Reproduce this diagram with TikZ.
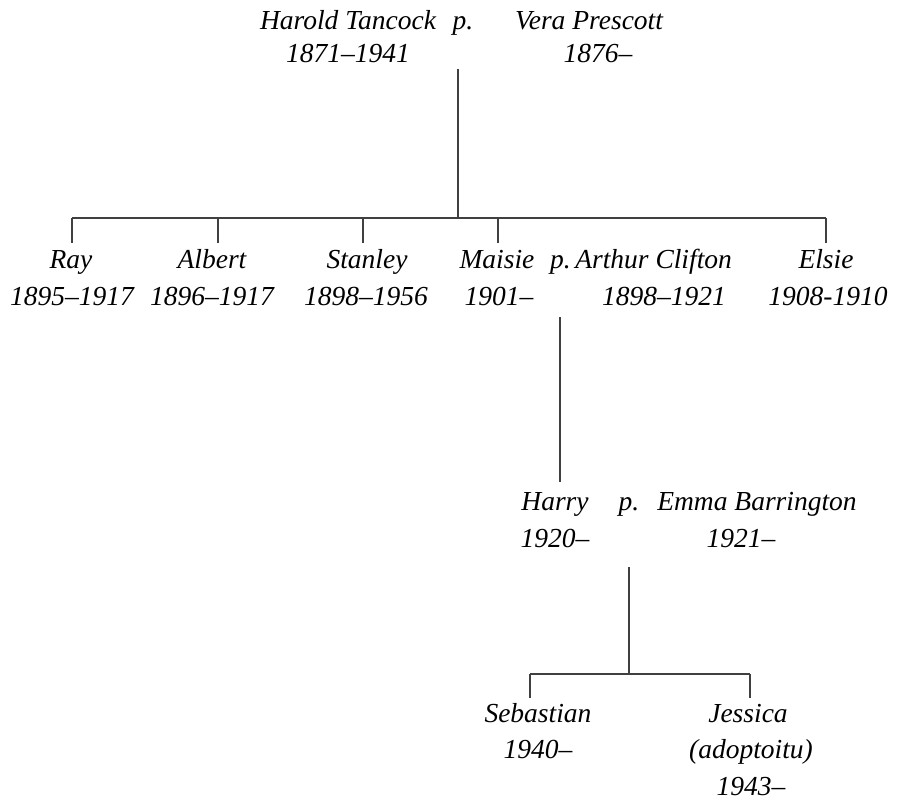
\documentclass[tikz,border=0pt]{standalone}
\usepackage{fontspec}
\setmainfont{Liberation Serif}
\begin{document}
\begin{tikzpicture}[x=1pt,y=-1pt,
  txt/.style={font=\fontsize{27.5}{35}\selectfont\itshape, inner sep=0pt, anchor=base},
  link/.style={draw=black!75, line width=1.1pt}]
\useasboundingbox (0,0) rectangle (904,803);
% generation 1
\node[txt] (harold) at (348,29) {Harold Tancock};
\node[txt] (harold-d) at (348,62) {1871–1941};
\node[txt] (p1) at (463,29) {p.};
\node[txt] (vera) at (589,29) {Vera Prescott};
\node[txt] (vera-d) at (598,62) {1876–};
% generation 2
\node[txt] (ray) at (71,268) {Ray};
\node[txt] (ray-d) at (72,305) {1895–1917};
\node[txt] (albert) at (212,268) {Albert};
\node[txt] (albert-d) at (212,305) {1896–1917};
\node[txt] (stanley) at (367,268) {Stanley};
\node[txt] (stanley-d) at (366,305) {1898–1956};
\node[txt] (maisie) at (497,268) {Maisie};
\node[txt] (maisie-d) at (499,305) {1901–};
\node[txt] (arthur) at (641,268) {p.\,Arthur Clifton};
\node[txt] (arthur-d) at (664,305) {1898–1921};
\node[txt] (elsie) at (826,268) {Elsie};
\node[txt] (elsie-d) at (828,305) {1908-1910};
% generation 3
\node[txt] (harry) at (555,510) {Harry};
\node[txt] (harry-d) at (555,547) {1920–};
\node[txt] (p3) at (629,510) {p.};
\node[txt] (emma) at (757,510) {Emma Barrington};
\node[txt] (emma-d) at (741,547) {1921–};
% generation 4
\node[txt] (sebastian) at (538,722) {Sebastian};
\node[txt] (sebastian-d) at (538,758) {1940–};
\node[txt] (jessica) at (748,722) {Jessica};
\node[txt] (jessica-a) at (751,758) {(adoptoitu)};
\node[txt] (jessica-d) at (751,795) {1943–};
% connector points
\coordinate (g1top) at (458,69);
\coordinate (g1bar) at (458,218);
\coordinate (b1l) at (72,218);
\coordinate (b1r) at (826,218);
\coordinate (t-ray) at (72,243);
\coordinate (t-albert-u) at (218,218);
\coordinate (t-albert) at (218,243);
\coordinate (t-stanley-u) at (363,218);
\coordinate (t-stanley) at (363,243);
\coordinate (t-maisie-u) at (498,218);
\coordinate (t-maisie) at (498,243);
\coordinate (t-elsie) at (826,243);
\coordinate (g2top) at (560,317);
\coordinate (g2bot) at (560,482);
\coordinate (g3top) at (629,567);
\coordinate (g3bar) at (629,674);
\coordinate (b3l) at (530,674);
\coordinate (b3r) at (750,674);
\coordinate (t-seb) at (530,698);
\coordinate (t-jes) at (750,698);
% connectors
\draw[link] (g1top) -- (g1bar);
\draw[link] (b1l) -- (b1r);
\draw[link] (b1l) -- (t-ray);
\draw[link] (t-albert-u) -- (t-albert);
\draw[link] (t-stanley-u) -- (t-stanley);
\draw[link] (t-maisie-u) -- (t-maisie);
\draw[link] (b1r) -- (t-elsie);
\draw[link] (g2top) -- (g2bot);
\draw[link] (g3top) -- (g3bar);
\draw[link] (b3l) -- (b3r);
\draw[link] (b3l) -- (t-seb);
\draw[link] (b3r) -- (t-jes);
\end{tikzpicture}
\end{document}
